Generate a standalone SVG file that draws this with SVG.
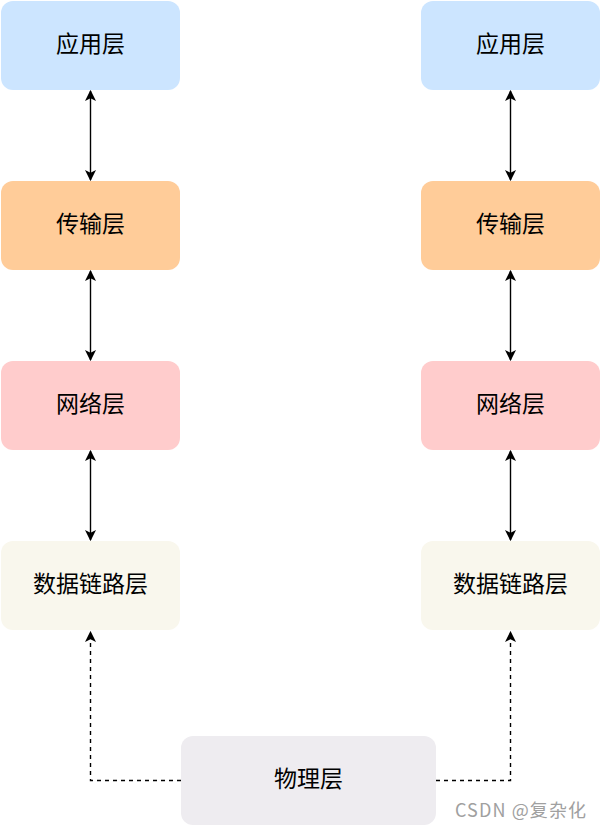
<svg xmlns="http://www.w3.org/2000/svg" width="602" height="827" viewBox="0 0 602 827">
<style>
.t{font-family:"Noto Sans CJK SC","Noto Sans",sans-serif;font-size:23px;fill:#000;text-anchor:middle;dominant-baseline:central}
.s{stroke:#000;stroke-width:1.4;fill:none}
.d{stroke:#000;stroke-width:1.4;fill:none;stroke-dasharray:4 4}
.wm{font-family:"Noto Sans CJK SC","Noto Sans",sans-serif;font-size:18px;fill:#a0a0a0;dominant-baseline:central}
</style>
<defs>
<marker id="a" viewBox="0 0 10 10" refX="9" refY="5" markerWidth="11" markerHeight="11" orient="auto-start-reverse" markerUnits="userSpaceOnUse">
<path d="M0,0 L10,5 L0,10 L2.5,5 Z" fill="#000"/>
</marker>
</defs>
<g id="l-app"><rect x="1" y="1" width="179" height="89" rx="12" fill="#cce5ff"/><text class="t" x="90.5" y="42">应用层</text></g>
<g id="l-trans"><rect x="1" y="181" width="179" height="89" rx="12" fill="#ffcc99"/><text class="t" x="90.5" y="222">传输层</text></g>
<g id="l-net"><rect x="1" y="361" width="179" height="89" rx="12" fill="#ffcccc"/><text class="t" x="90.5" y="402">网络层</text></g>
<g id="l-link"><rect x="1" y="541" width="179" height="89" rx="12" fill="#f9f7ed"/><text class="t" x="90.5" y="582">数据链路层</text></g>
<g id="r-app"><rect x="421" y="1" width="179" height="89" rx="12" fill="#cce5ff"/><text class="t" x="510.5" y="42">应用层</text></g>
<g id="r-trans"><rect x="421" y="181" width="179" height="89" rx="12" fill="#ffcc99"/><text class="t" x="510.5" y="222">传输层</text></g>
<g id="r-net"><rect x="421" y="361" width="179" height="89" rx="12" fill="#ffcccc"/><text class="t" x="510.5" y="402">网络层</text></g>
<g id="r-link"><rect x="421" y="541" width="179" height="89" rx="12" fill="#f9f7ed"/><text class="t" x="510.5" y="582">数据链路层</text></g>
<g id="phys"><rect x="181" y="736" width="255" height="89" rx="12" fill="#eeecf0"/><text class="t" x="308.5" y="777">物理层</text></g>
<g id="connectors">
<line class="s" x1="90.5" y1="91" x2="90.5" y2="180" marker-start="url(#a)" marker-end="url(#a)"/>
<line class="s" x1="90.5" y1="271" x2="90.5" y2="360" marker-start="url(#a)" marker-end="url(#a)"/>
<line class="s" x1="90.5" y1="451" x2="90.5" y2="540" marker-start="url(#a)" marker-end="url(#a)"/>
<line class="s" x1="510.5" y1="91" x2="510.5" y2="180" marker-start="url(#a)" marker-end="url(#a)"/>
<line class="s" x1="510.5" y1="271" x2="510.5" y2="360" marker-start="url(#a)" marker-end="url(#a)"/>
<line class="s" x1="510.5" y1="451" x2="510.5" y2="540" marker-start="url(#a)" marker-end="url(#a)"/>
<path class="d" d="M181,780.5 H90.5 V632" marker-end="url(#a)"/>
<path class="d" d="M436,780.5 H510.5 V632" marker-end="url(#a)"/>
</g>
<text class="wm" x="455" y="809" textLength="131" lengthAdjust="spacing">CSDN @复杂化</text>
</svg>
